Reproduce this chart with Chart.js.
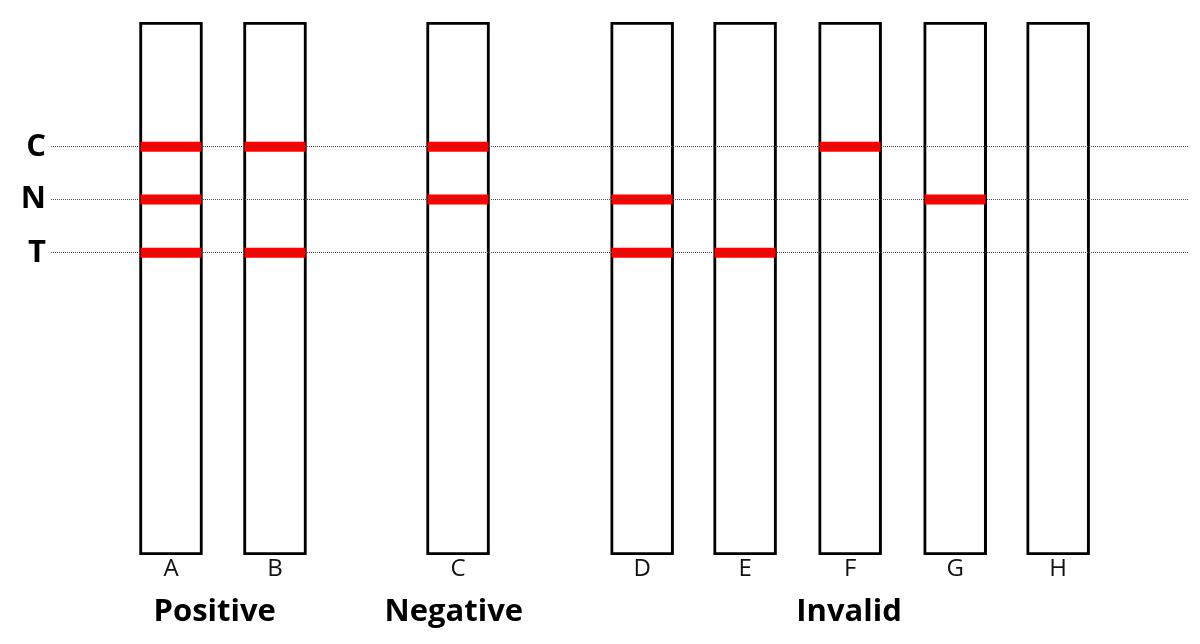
<!DOCTYPE html>
<html>
<head>
<meta charset="utf-8">
<script src="https://cdn.jsdelivr.net/npm/chart.js@4.4.1/dist/chart.umd.min.js"></script>
<style>
  html, body { margin: 0; padding: 0; background: #ffffff; }
  #wrap { width: 1200px; height: 644px; position: relative; }
</style>
</head>
<body>
<div id="wrap"><canvas id="c"></canvas></div>
<script>
// ---- data ----
const stripLabels = ['A', 'B', 'C', 'D', 'E', 'F', 'G', 'H'];
const stripPositions = [1, 2, 3.76, 5.53, 6.52, 7.53, 8.54, 9.53];
const stripTop = 100;

const lineNames = ['C', 'N', 'T'];
const lineLevels = [76.6, 66.7, 56.7];

// presence of a red band on each strip, per line (C, N, T)
const bandC = [1, 1, 1, 0, 0, 1, 0, 0];
const bandN = [1, 0, 1, 1, 0, 0, 1, 0];
const bandT = [1, 1, 0, 1, 1, 0, 0, 0];

const groupNames = ['Positive', 'Negative', 'Invalid'];
const groupPositions = [1.42, 3.72, 7.52];

// ---- build datasets ----
const bandRows = [bandC, bandN, bandT];
const bandPoints = [];
bandRows.forEach((row, j) => {
  row.forEach((on, i) => {
    if (on) bandPoints.push({ x: stripPositions[i], y: lineLevels[j] });
  });
});
const stripData = stripPositions.map(p => ({ x: p, y: stripTop }));

const X_MIN = -0.1538, X_MAX = 10.779;
const FONT = '"Open Sans", "DejaVu Sans", sans-serif';

function zeroPad(s) {
  s.paddingTop = 0; s.paddingBottom = 0; s.paddingLeft = 0; s.paddingRight = 0;
}

new Chart(document.getElementById('c'), {
  type: 'bar',
  data: {
    datasets: [
      {
        type: 'line',
        label: 'bands',
        data: bandPoints,
        showLine: false,
        pointStyle: 'line',
        pointRadius: 30.5,
        pointHoverRadius: 30.5,
        pointBorderWidth: 10,
        pointHoverBorderWidth: 10,
        pointBorderColor: '#ff0000',
        pointBackgroundColor: '#ff0000',
        order: 1,
        clip: false
      },
      {
        type: 'bar',
        label: 'strips',
        data: stripData,
        backgroundColor: '#ffffff',
        borderColor: '#000000',
        borderWidth: 3,
        borderSkipped: false,
        barThickness: 63,
        grouped: false,
        order: 2
      }
    ]
  },
  options: {
    responsive: true,
    maintainAspectRatio: false,
    animation: false,
    events: [],
    layout: { autoPadding: false, padding: { top: 22, right: 12, left: 0, bottom: 3 } },
    plugins: {
      legend: { display: false },
      tooltip: { enabled: false },
      title: { display: false }
    },
    scales: {
      x: {
        type: 'linear',
        position: 'bottom',
        weight: 0,
        offset: false,
        bounds: 'data',
        min: X_MIN,
        max: X_MAX,
        grid: { display: false, drawTicks: false, offset: false },
        border: { display: false },
        afterBuildTicks: (s) => { s.ticks = stripPositions.map(v => ({ value: v })); },
        afterFit: zeroPad,
        ticks: {
          autoSkip: false,
          maxRotation: 0,
          padding: 0,
          color: '#111111',
          font: { family: FONT, size: 24, weight: 'normal' },
          callback: (v, i) => stripLabels[i]
        }
      },
      x2: {
        type: 'linear',
        position: 'bottom',
        weight: 1,
        offset: false,
        bounds: 'data',
        min: X_MIN,
        max: X_MAX,
        grid: { display: false, drawTicks: false, offset: false },
        border: { display: false },
        afterBuildTicks: (s) => { s.ticks = groupPositions.map(v => ({ value: v })); },
        afterFit: zeroPad,
        ticks: {
          autoSkip: false,
          maxRotation: 0,
          padding: 10,
          color: '#000000',
          font: { family: FONT, size: 31, weight: 'bold' },
          callback: (v, i) => groupNames[i]
        }
      },
      y: {
        type: 'linear',
        position: 'left',
        min: 0,
        max: stripTop,
        afterFit: (s) => { s.width = 51; zeroPad(s); },
        grid: {
          display: true,
          drawTicks: false,
          color: '#4a4a4a',
          lineWidth: 1,
          z: 1
        },
        border: { display: false, dash: [1, 1] },
        afterBuildTicks: (s) => { s.ticks = lineLevels.map(v => ({ value: v })); },
        ticks: {
          autoSkip: false,
          padding: 5,
          color: '#000000',
          font: { family: FONT, size: 31, weight: 'bold' },
          callback: (v, i) => lineNames[i]
        }
      }
    }
  }
});
</script>
</body>
</html>
